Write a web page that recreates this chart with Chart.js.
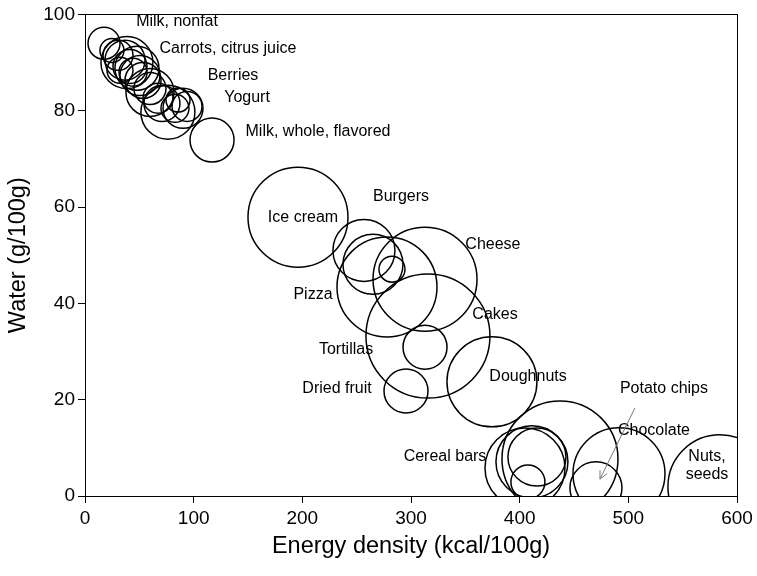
<!DOCTYPE html>
<html><head><meta charset="utf-8">
<script src="https://cdn.jsdelivr.net/npm/chart.js@4/dist/chart.umd.min.js"></script>
<style>html,body{margin:0;padding:0;background:#fff}#wrap{width:757px;height:576px}</style>
</head><body><div id="wrap"><canvas id="c" width="757" height="576"></canvas></div>
<script>
// Energy density (kcal/100g)
const energy = [17.5, 30.4, 36.8, 38.6, 41.4, 32.2, 44.2, 47.8, 53.4, 59.8, 67.2, 70.8, 76.3, 82.8, 90.2, 93.9, 116.9,
                24.8, 50.6, 59.8, 85.6,
                196.0, 256.7, 265.0, 282.5, 277.9, 312.9, 315.6, 312.9, 295.4, 374.5,
                437.1, 415.9, 407.6, 404.9, 411.3, 491.4, 470.2, 584.3];
// Water (g/100g)
const water = [94.0, 91.5, 90.5, 90.0, 89.2, 88.4, 88.0, 88.8, 86.3, 84.6, 82.6, 81.5, 79.7, 80.5, 80.5, 80.9, 73.9,
               92.5, 87.3, 83.8, 82.2,
               57.9, 51.0, 48.1, 47.1, 43.4, 45.0, 33.2, 30.9, 21.8, 23.7,
               7.7, 8.1, 2.9, 5.8, 7.1, 4.6, 1.7, 1.9];
// Bubble size (radius)
const bubbleSize = [16, 15, 20, 26, 17, 13, 14, 22, 18, 16, 15, 18, 27, 14, 20, 15, 22,
                    12, 20, 24, 12,
                    50, 31, 30, 13, 50, 52, 62, 22, 22, 45,
                    58, 29, 17, 40, 36, 46, 26, 52];
// Annotations (data coordinates)
const labelText = ["Milk, nonfat", "Carrots, citrus juice", "Berries", "Yogurt", "Milk, whole, flavored",
                   "Burgers", "Ice cream", "Cheese", "Pizza", "Cakes", "Tortillas", "Doughnuts",
                   "Dried fruit", "Potato chips", "Chocolate", "Cereal bars", ["Nuts,", "seeds"]];
const labelX = [84.7, 131.6, 136.2, 149.1, 214.4, 290.8, 200.6, 375.4, 209.8, 377.3, 240.2, 407.7,
                231.9, 532.8, 523.6, 331.3, 572.4];
const labelY = [98.5, 92.9, 87.3, 82.8, 75.7, 62.2, 57.9, 52.3, 41.9, 37.6, 30.3, 24.7,
                22.4, 22.2, 13.5, 8.1, 6.4];
const arrowFrom = [506.1, 18.3];
const arrowTo = [473.9, 3.5];
const xTicks = [0, 100, 200, 300, 400, 500, 600];
const yTicks = [0, 20, 40, 60, 80, 100];

Chart.defaults.font.family = "'Liberation Sans', Arial, sans-serif";
Chart.defaults.color = '#000';

const points = energy.map((e, i) => ({x: e, y: water[i], r: bubbleSize[i]}));

const annot = {
  id: 'annot',
  afterDatasetsDraw(chart) {
    const {ctx, scales: {x, y}} = chart;
    ctx.save();
    ctx.fillStyle = '#000';
    ctx.font = "16px 'Liberation Sans', Arial, sans-serif";
    ctx.textAlign = 'center';
    ctx.textBaseline = 'middle';
    labelText.forEach((t, i) => {
      const px = x.getPixelForValue(labelX[i]);
      const py = y.getPixelForValue(labelY[i]);
      const lines = Array.isArray(t) ? t : [t];
      const lh = 18;
      lines.forEach((ln, k) => {
        ctx.fillText(ln, px, py + (k - (lines.length - 1) / 2) * lh);
      });
    });
    // arrow
    const x1 = x.getPixelForValue(arrowFrom[0]), y1 = y.getPixelForValue(arrowFrom[1]);
    const x2 = x.getPixelForValue(arrowTo[0]), y2 = y.getPixelForValue(arrowTo[1]);
    ctx.strokeStyle = '#777';
    ctx.lineWidth = 1;
    ctx.beginPath(); ctx.moveTo(x1, y1); ctx.lineTo(x2, y2); ctx.stroke();
    const ang = Math.atan2(y2 - y1, x2 - x1);
    const hl = 9;
    ctx.beginPath();
    ctx.moveTo(x2 - hl * Math.cos(ang - 0.45), y2 - hl * Math.sin(ang - 0.45));
    ctx.lineTo(x2, y2);
    ctx.lineTo(x2 - hl * Math.cos(ang + 0.45), y2 - hl * Math.sin(ang + 0.45));
    ctx.stroke();
    ctx.restore();
  },
  afterDraw(chart) {
    const {ctx, chartArea: a} = chart;
    ctx.save();
    ctx.strokeStyle = '#000';
    ctx.lineWidth = 1;
    ctx.strokeRect(Math.round(a.left) + 0.5, Math.round(a.top) + 0.5, Math.round(a.right - a.left), Math.round(a.bottom - a.top));
    ctx.restore();
  }
};

new Chart(document.getElementById('c'), {
  type: 'bubble',
  data: {
    datasets: [{
      data: points,
      backgroundColor: 'rgba(0,0,0,0)',
      borderColor: '#000',
      borderWidth: 1.5,
      hoverRadius: 0,
      hoverBorderWidth: 1.5,
      clip: 0
    }]
  },
  options: {
    responsive: false,
    animation: false,
    devicePixelRatio: 1,
    events: [],
    layout: {autoPadding: false, padding: {top: 14, right: 20, left: 0, bottom: 0}},
    plugins: {legend: {display: false}, tooltip: {enabled: false}},
    scales: {
      x: {
        type: 'linear', min: 0, max: 600,
        afterBuildTicks: s => { s.ticks = xTicks.map(v => ({value: v})); },
        afterFit: s => { s.height = 80; },
        ticks: {font: {size: 19}, color: '#000', padding: 4},
        grid: {drawOnChartArea: false, drawTicks: true, tickLength: 7, color: '#000', lineWidth: 1},
        border: {color: '#000', width: 1},
        title: {display: true, text: 'Energy density (kcal/100g)', font: {size: 23.5}, color: '#000', padding: {top: 0, bottom: 15}}
      },
      y: {
        type: 'linear', min: 0, max: 100,
        afterBuildTicks: s => { s.ticks = yTicks.map(v => ({value: v})); },
        afterFit: s => { s.width = 85; },
        ticks: {font: {size: 19}, color: '#000', padding: 3},
        grid: {drawOnChartArea: false, drawTicks: true, tickLength: 7, color: '#000', lineWidth: 1},
        border: {color: '#000', width: 1},
        title: {display: true, text: 'Water (g/100g)', font: {size: 23.5}, color: '#000', padding: {top: 4, bottom: 0}}
      }
    }
  },
  plugins: [annot]
});
</script>
</body></html>
